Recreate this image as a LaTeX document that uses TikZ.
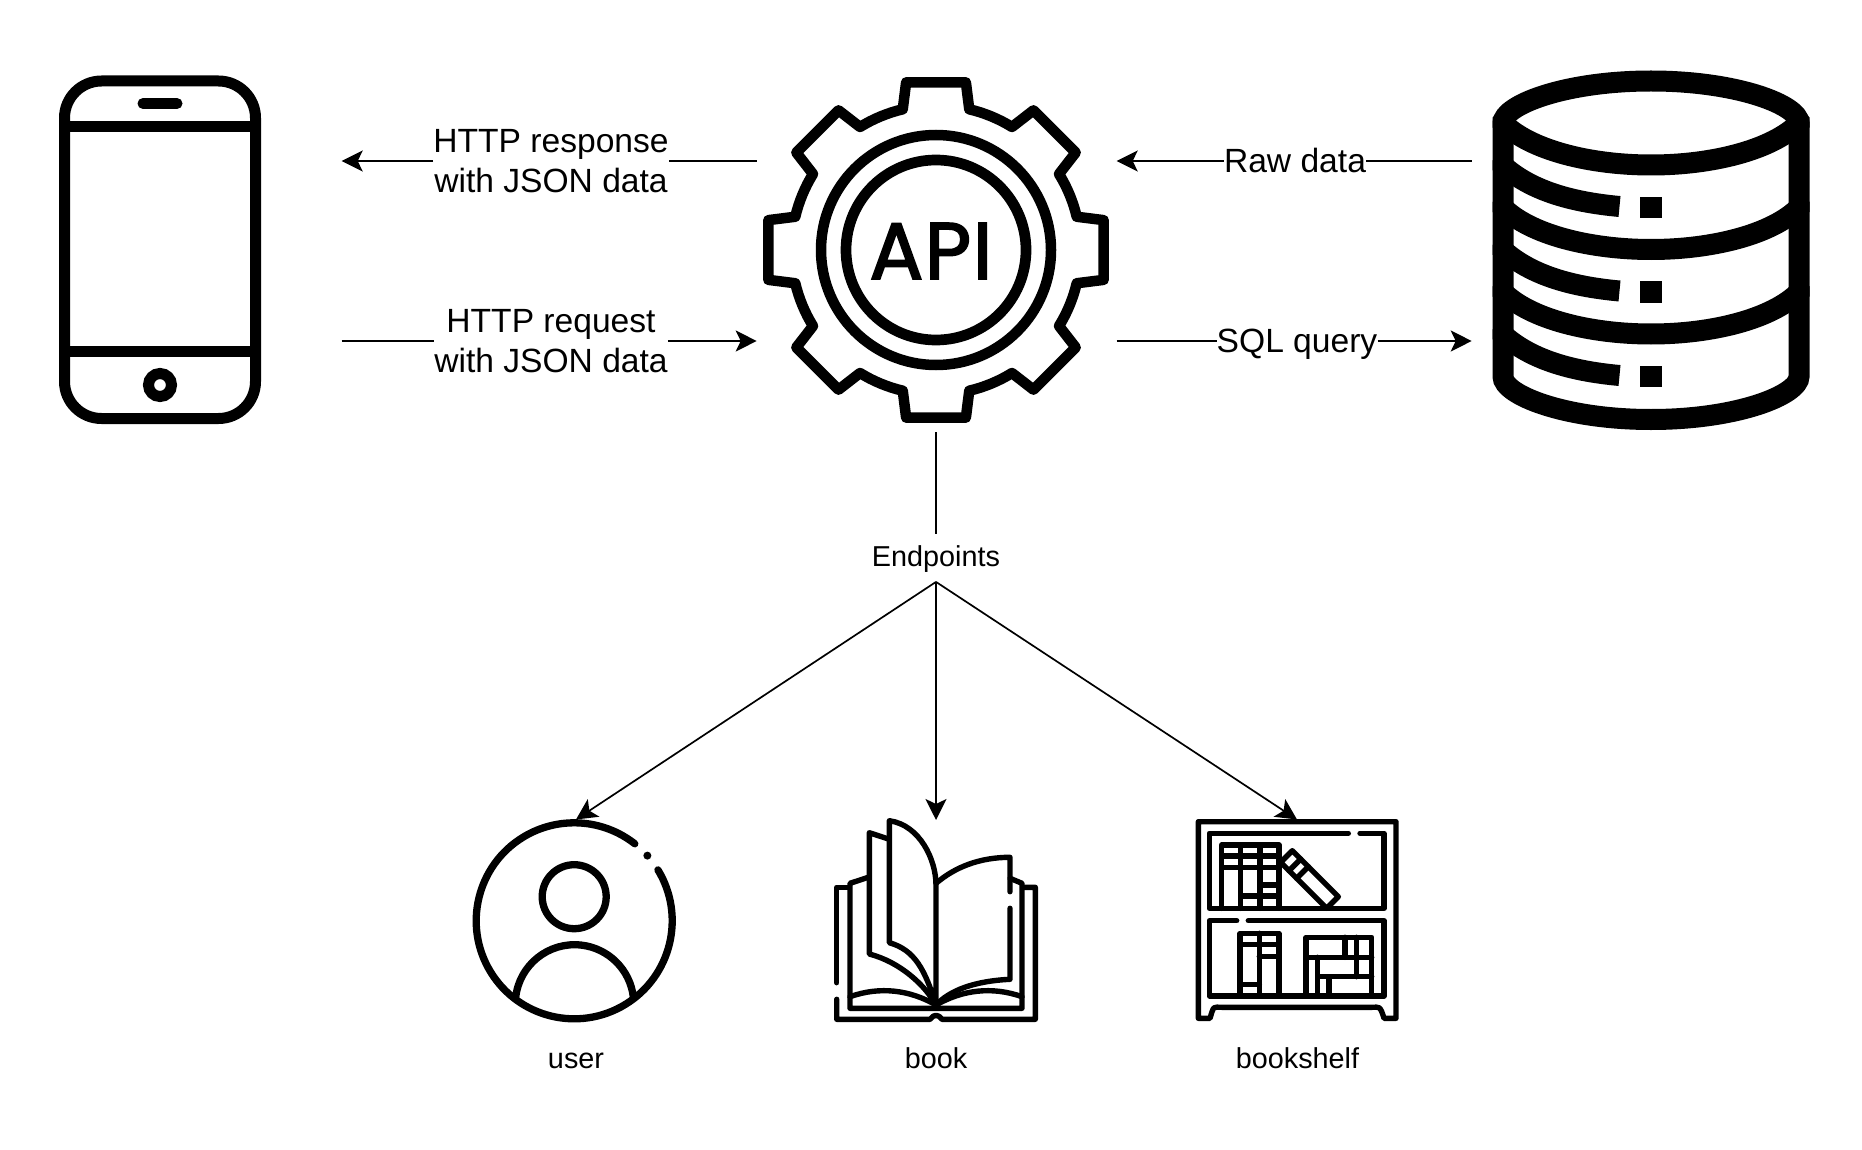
\documentclass[tikz,border=0pt]{standalone}
\usepackage{fontspec}
\setmainfont{Liberation Sans}
\newfontfamily\apifont{Poppins}[FakeBold=2.2,LetterSpace=2]
\usetikzlibrary{arrows.meta}
\tikzset{
    flow/.style={line width=1.7pt},
    lab/.style={fill=white,inner sep=0pt,align=center,font=\fontsize{33.6}{40}\selectfont},
    one line/.style={text height=30pt,text depth=6.6pt},
    small/.style={inner sep=0pt,text height=24pt,text depth=6pt,font=\fontsize{28.8}{34}\selectfont},
    icon/.style={line width=7.3pt,line cap=round,line join=round},
    thin icon/.style={line width=5.4pt,line cap=round,line join=round},
    phone/.style={line width=11pt},
    dbline/.style={line width=21pt},
}
\begin{document}
\begin{tikzpicture}[x=1pt,y=1pt,yscale=-1,>={Stealth[length=21pt,width=21pt,inset=5pt]}]
    \useasboundingbox (0,0) rectangle (1862,1150);

    % phone
    \draw[phone,rounded corners=37pt] (64.5,81) rectangle (255.5,418.5);
    \draw[phone] (64.5,126.5) -- (255.5,126.5);
    \draw[phone] (64.5,351) -- (255.5,351);
    \draw[phone,line cap=round] (143,103.5) -- (177,103.5);
    \draw[phone] (160,385) circle (11.5pt);

    % gear
    \begin{scope}[shift={(936,250)}]
        \draw[line width=10.5pt,line join=round] (-13.3:144.6)
            \foreach \a in {0,45,...,315}
            {
                -- (\a-13.3:144.6) -- (\a-10.1:170.3) -- (\a+10.1:170.3) -- (\a+13.3:144.6)
                arc[start angle=\a+13.3,end angle=\a+31.7,radius=144.6pt]
            } -- cycle;
        \draw[line width=10.5pt] (0,0) circle (115pt);
        \draw[line width=10.7pt] (0,0) circle (90pt);
    \end{scope}
    \node[inner sep=0pt,font=\apifont\fontsize{80}{80}\selectfont] (api) at (931,251) {API};

    % database
    \begin{scope}
        \clip (1492.5,60) rectangle (1809.5,440);
        \foreach \y in {0,84.5,169}
        {
            \draw[dbline] (1495,115+\y) -- (1503,123+\y) .. controls (1530,150+\y) and (1590,165+\y) .. (1651,165+\y)
                .. controls (1712,165+\y) and (1772,150+\y) .. (1799,123+\y) -- (1807,115+\y);
            \draw[dbline] (1495,158+\y) -- (1503,165.5+\y) .. controls (1530,190+\y) and (1570,202+\y) .. (1619.5,206.5+\y);
            \fill (1640.3,196.7+\y) rectangle (1661.7,218.3+\y);
        }
    \end{scope}
    \draw[dbline] (1651,81) .. controls (1565,81) and (1503,105) .. (1503,123) -- (1503,376.5)
        .. controls (1503,395) and (1565,419.5) .. (1651,419.5)
        .. controls (1737,419.5) and (1799,395) .. (1799,376.5) -- (1799,123)
        .. controls (1799,105) and (1737,81) .. (1651,81) -- cycle;

    % user
    \draw[icon] (574.2,920.8) ++(-31.3:98pt) arc[start angle=-31.3,end angle=308.2,radius=98pt];
    \fill (574.2,920.8) ++(-41.7:98pt) circle (4pt);
    \draw[icon] (574.2,896.7) circle (32pt);
    \draw[icon,line cap=butt] (515.7,997.3) arc[start angle=186.4,end angle=353.6,radius=59.2pt];

    % book
    \begin{scope}[thin icon]
        \draw (836.7,982.7) -- (836.7,887.3) -- (847.3,887.3);
        \draw (836.7,999.3) -- (836.7,1019.3) -- (930,1019.3) .. controls (934,1014) and (938,1014) .. (942,1019.3)
            -- (1035.3,1019.3) -- (1035.3,887.3) -- (1023.3,887.3);
        \draw (868.3,877.3) -- (850,883.3) -- (850,1008.3) -- (1022,1008.3) -- (1022,883.3) -- (1010,878.3);
        \draw (850,996.7) .. controls (880,986) and (910,990) .. (936,1005)
            .. controls (962,990) and (992,986) .. (1022,996.7);
        \draw (889.3,839.3) -- (869.3,832.7) -- (869.3,954) .. controls (900,962) and (925,985) .. (936,1005);
        \draw (936,1005) .. controls (925,970) and (915,950) .. (889.3,942.7) -- (889.3,820.7)
            .. controls (920,825) and (936,860) .. (936,885) -- (936,1005);
        \draw (936,883.3) .. controls (955,867) and (980,857.3) .. (1010,857.3) -- (1010,891.7);
        \draw (1010,908.3) -- (1010,979.3) .. controls (975,981) and (950,990) .. (936,1005);
    \end{scope}

    % bookshelf
    \begin{scope}[thin icon]
        \draw (1198.3,1018.3) -- (1198.3,821.7) -- (1396,821.7) -- (1396,1018.3) -- (1384,1018.3)
            .. controls (1380,1005) and (1379,1007.3) .. (1372,1007.3) -- (1222,1007.3)
            .. controls (1213,1007.3) and (1214,1005) .. (1210,1018.3) -- cycle;
        \draw (1348.3,833.3) -- (1209.3,833.3) -- (1209.3,908.3) -- (1384,908.3) -- (1384,833.3) -- (1360,833.3);
        \draw (1236.7,920.7) -- (1209.3,920.7) -- (1209.3,996) -- (1384,996) -- (1384,920.7) -- (1248.3,920.7);
        \draw (1221.7,908.3) -- (1221.7,845) -- (1279,845) -- (1279,908.3);
        \draw (1240.7,845) -- (1240.7,908.3);
        \draw (1260,845) -- (1260,908.3);
        \foreach \y in {856,867.7}
        {
            \draw (1221.7,\y) -- (1279,\y);
        }
        \draw (1260,885) -- (1279,885);
        \draw (1240.7,896) -- (1279,896);
        \draw (1326.7,908.3) -- (1280.7,862.3) -- (1292.3,850.7) -- (1338.3,896.7) -- cycle;
        \draw (1289,870.7) -- (1300.7,859);
        \draw (1296.7,878.3) -- (1308.3,866.7);
        \draw (1240,996) -- (1240,933.3) -- (1279,933.3) -- (1279,996);
        \draw (1259.3,933.3) -- (1259.3,996);
        \draw (1240,944.3) -- (1279,944.3);
        \draw (1259.3,956.7) -- (1279,956.7);
        \draw (1240,984.3) -- (1259.3,984.3);
        \draw (1306,996) -- (1306,937.3) -- (1371.7,937.3) -- (1371.7,996);
        \draw (1306,957.3) -- (1371.7,957.3);
        \draw (1317.7,957.3) -- (1317.7,996);
        \draw (1345,937.3) -- (1345,957.3);
        \draw (1356.7,937.3) -- (1356.7,976.7);
        \draw (1317.7,976.7) -- (1371.7,976.7);
        \draw (1329,976.7) -- (1329,996);
    \end{scope}

    % ends of the connectors
    \coordinate (gearA) at (756.7,161);
    \coordinate (gearB) at (756.7,341);
    \coordinate (gearC) at (1116.7,161);
    \coordinate (gearD) at (1116.7,341);
    \coordinate (gearE) at (936,432);
    \coordinate (phoneA) at (341.7,161);
    \coordinate (phoneB) at (341.7,341);
    \coordinate (dbA) at (1471.7,161);
    \coordinate (dbB) at (1471.7,341);
    \coordinate (userIn) at (576,819.5);
    \coordinate (bookIn) at (936,820);
    \coordinate (shelfIn) at (1297,819.5);

    \node[lab] (resp) at (551,161) {HTTP response\\with JSON data};
    \node[lab] (requ) at (551,341) {HTTP request\\with JSON data};
    \node[lab,one line] (raw) at (1295,161) {Raw data};
    \node[lab,one line] (sql) at (1297,341) {SQL query};
    \node[small,minimum height=48pt] (ends) at (936,557.7) {Endpoints};
    \node[small] (userlab) at (576,1059.3) {user};
    \node[small] (booklab) at (936,1059.3) {book};
    \node[small] (shelflab) at (1297.5,1059.3) {bookshelf};

    \draw[flow] (gearA) -- (resp);
    \draw[flow,->] (resp) -- (phoneA);
    \draw[flow] (phoneB) -- (requ);
    \draw[flow,->] (requ) -- (gearB);
    \draw[flow] (dbA) -- (raw);
    \draw[flow,->] (raw) -- (gearC);
    \draw[flow] (gearD) -- (sql);
    \draw[flow,->] (sql) -- (dbB);
    \draw[flow] (gearE) -- (ends.north);
    \draw[flow,->] (ends.south) -- (userIn);
    \draw[flow,->] (ends.south) -- (bookIn);
    \draw[flow,->] (ends.south) -- (shelfIn);
\end{tikzpicture}
\end{document}
